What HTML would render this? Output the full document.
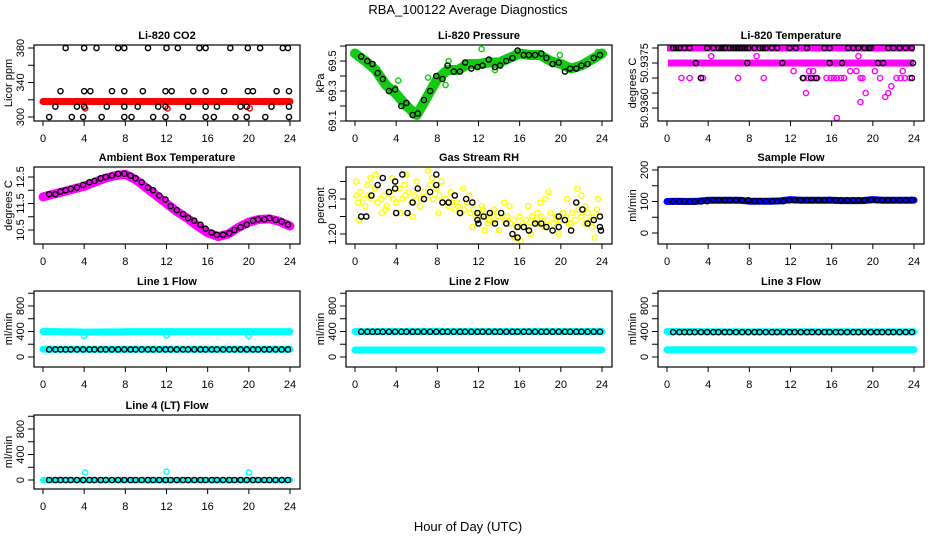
<!DOCTYPE html>
<html><head><meta charset="utf-8">
<style>
html,body{margin:0;padding:0;background:#fff;}
svg{display:block;font-family:"Liberation Sans",sans-serif;}
</style></head>
<body>
<svg id="c" width="936" height="540" xmlns="http://www.w3.org/2000/svg">
<rect x="0" y="0" width="936" height="540" fill="#fff"/>
<text x="468" y="14" text-anchor="middle" font-size="13">RBA_100122  Average Diagnostics</text>
<text x="468" y="531" text-anchor="middle" font-size="13">Hour of Day (UTC)</text>
</svg>
<script>
// shared times of black (hourly average) points
const blackT=[0.6,1.2,1.7,2.2,2.7,3.3,3.9,4.5,5.0,5.6,6.1,6.7,7.3,7.9,8.5,9.0,9.6,10.2,10.7,11.3,11.9,12.4,13.0,13.6,14.1,14.7,15.3,15.8,16.4,16.9,17.5,18.1,18.6,19.2,19.8,20.4,20.9,21.5,22.0,22.6,23.2,23.8];
const hours=[0,1,2,3,4,5,6,7,8,9,10,11,12,13,14,15,16,17,18,19,20,21,22,23,24];
const xTicks=[0,4,8,12,16,20,24];

// CO2
const co2BandV=[318,318,318,318,318,318,318,318,318,318,318,318,318,318,318,318,318,318,318,318,318,318,318,318,318];
const co2RedT=[4.1,12.1,20.1];
const co2RedV=[310,310,310];
const co2BlackT=[2.2,4,5.2,7.3,7.9,10.2,12,13.1,15.2,15.8,18.2,19.9,21.1,23.3,23.8, 1.7,4,4.6,6.7,7.9,9.7,11.9,12.5,14.6,15.8,17.6,19.9,20.4,22.7,23.9, 1.2,3.3,4,6.2,7.9,9.2,11.2,11.9,14.1,15.8,16.9,19.2,19.8,22.2,23.9, 0.6,2.8,3.9,5.7,7.9,8.6,10.7,11.9,13.6,15.8,16.6,18.7,19.8,21.6,23.9];
const co2BlackV=[380,380,380,380,380,380,380,380,380,380,380,380,380,380,380, 330,330,330,330,330,330,330,330,330,330,330,330,330,330,330, 312,312,312,312,312,312,312,312,312,312,312,312,312,312,312, 300,300,300,300,300,300,300,300,300,300,300,300,300,300,300];

// Pressure
const presBandV=[69.55,69.5,69.44,69.34,69.28,69.2,69.14,69.26,69.38,69.44,69.44,69.48,69.48,69.49,69.49,69.52,69.55,69.54,69.54,69.5,69.48,69.45,69.47,69.51,69.55];
const presBlackV=[69.53,69.5,69.48,69.42,69.38,69.3,69.31,69.2,69.22,69.14,69.15,69.24,69.3,69.4,69.38,69.47,69.43,69.43,69.49,69.45,69.46,69.47,69.51,69.46,69.47,69.5,69.52,69.57,69.54,69.54,69.54,69.55,69.52,69.48,69.49,69.43,69.45,69.45,69.47,69.48,69.52,69.54];
const presGreenT=[3.9,4.2,7.1,8.8,9.1,12.3,13.6,19.9,23.6];
const presGreenV=[69.32,69.37,69.39,69.34,69.5,69.58,69.44,69.54,69.56];

// Li-820 temperature
const tempBandV=[50.9380,50.9375];
const tempBandStart=[0.0,0.1];
const tempBandEnd=[24,24];
const tempMagT=[1.4,2.2,3.3,3.5,6.9,9.4,13.3,13.7,14.0,14.3,14.6,15.5,15.9,16.2,16.5,16.9,17.2,18.8,19.0,20.7,22.3,22.7,23.1,23.6,4.3,8.7,18.6,12.3,13.8,14.2,17.8,18.4,20.2,22.9,13.5,19.3,21.5,21.8,18.8,21.2,16.5];
const tempMagV=[50.9370,50.9370,50.9370,50.9370,50.9370,50.9370,50.9370,50.9370,50.9370,50.9370,50.9370,50.9370,50.9370,50.9370,50.9370,50.9370,50.9370,50.9370,50.9370,50.9370,50.9370,50.9370,50.9370,50.9370,50.93773,50.93773,50.93773,50.93723,50.93723,50.93723,50.93723,50.93723,50.93723,50.93723,50.9365,50.9365,50.9365,50.93673,50.9362,50.93637,50.93567];
const tempBlackT=[0.6,0.9,1.2,1.7,2.2,3.9,4.5,5.0,5.3,5.6,6.1,6.4,6.7,7.0,7.3,7.6,7.9,8.5,9.0,9.3,9.6,10.2,10.7,11.9,12.5,13.6,15.3,15.8,17.6,18.1,18.6,19.2,19.6,19.8,21.5,22.0,22.6,23.2,23.8, 2.8,7.8,11.2,15.8,17.0,20.5,21.0,23.9, 3.3,13.2,14.0,14.5,23.8];
const tempBlackV=[50.9380,50.9380,50.9380,50.9380,50.9380,50.9380,50.9380,50.9380,50.9380,50.9380,50.9380,50.9380,50.9380,50.9380,50.9380,50.9380,50.9380,50.9380,50.9380,50.9380,50.9380,50.9380,50.9380,50.9380,50.9380,50.9380,50.9380,50.9380,50.9380,50.9380,50.9380,50.9380,50.9380,50.9380,50.9380,50.9380,50.9380,50.9380,50.9380, 50.9375,50.9375,50.9375,50.9375,50.9375,50.9375,50.9375,50.9375, 50.9370,50.9370,50.9370,50.9370,50.9370];

// Ambient box temperature
const ambBandV=[11.75,11.85,11.95,12.05,12.15,12.3,12.45,12.55,12.6,12.4,12.1,11.8,11.5,11.2,10.95,10.65,10.4,10.25,10.35,10.6,10.8,10.9,10.92,10.82,10.65];
const ambBlackV=[11.85,11.85,11.95,12.0,12.05,12.1,12.2,12.3,12.35,12.45,12.5,12.55,12.62,12.62,12.55,12.45,12.3,12.1,12.0,11.8,11.65,11.4,11.25,11.1,10.95,10.85,10.7,10.55,10.4,10.32,10.32,10.38,10.5,10.6,10.7,10.85,10.9,10.9,10.95,10.88,10.82,10.7];

// Gas stream RH
const rhYellowT=[0.1,0.3,0.5,0.8,1.0,1.3,1.6,1.9,2.2,2.5,2.8,3.1,3.4,3.7,4.0,4.3,4.6,4.9,5.2,5.5,5.8,6.1,6.4,6.7,7.0,7.3,7.6,7.9,8.2,8.5,8.8,9.1,9.4,9.7,10.0,10.3,10.6,10.9,11.2,11.5,11.8,12.1,12.4,12.7,13.0,13.3,13.6,13.9,14.2,14.5,14.8,15.1,15.4,15.7,16.0,16.3,16.6,16.9,17.2,17.5,17.8,18.1,18.4,18.7,19.0,19.3,19.6,19.9,20.2,20.5,20.8,21.1,21.4,21.7,22.0,22.3,22.6,22.9,23.2,23.5,23.8, 0.1,1.5,2.0,2.6,3.6,4.4,5.0,5.6,6.3,7.1,7.5,8.4,9.3,10.5,11.4,12.3,12.6,13.5,14.5,15.0,15.5,16.1,17.1,18.0,18.8,19.5,20.6,21.6,22.4,23.3, 0.4,1.2,3.0,4.8,6.0,8.1,9.9,11.1,12.9,14.0,15.7,16.8,17.7,18.5,19.8,21.0,22.0,23.0,23.6];
const rhYellowV=[1.31,1.29,1.32,1.30,1.28,1.31,1.30,1.33,1.29,1.30,1.31,1.28,1.32,1.30,1.29,1.33,1.30,1.31,1.32,1.29,1.31,1.33,1.30,1.32,1.31,1.34,1.30,1.33,1.31,1.29,1.30,1.28,1.29,1.27,1.28,1.26,1.27,1.29,1.26,1.27,1.25,1.26,1.27,1.25,1.24,1.26,1.24,1.25,1.26,1.24,1.25,1.23,1.24,1.22,1.25,1.23,1.24,1.22,1.25,1.24,1.23,1.25,1.22,1.24,1.26,1.23,1.25,1.24,1.26,1.25,1.23,1.26,1.24,1.27,1.25,1.23,1.26,1.24,1.25,1.27,1.25, 1.35,1.36,1.37,1.26,1.36,1.26,1.37,1.25,1.28,1.38,1.36,1.35,1.32,1.33,1.22,1.28,1.21,1.27,1.29,1.28,1.19,1.18,1.20,1.29,1.32,1.24,1.30,1.33,1.28,1.19, 1.24,1.34,1.27,1.34,1.35,1.26,1.29,1.31,1.23,1.21,1.22,1.28,1.26,1.30,1.20,1.23,1.31,1.22,1.30];
const rhBlackT=[0.6,1.1,1.6,2.2,2.7,3.3,3.9,3.9,4.0,4.6,5.1,5.6,6.1,6.7,7.3,7.9,7.9,8.5,9.1,9.7,10.2,10.8,11.4,11.9,11.9,12.0,12.5,13.1,13.6,14.2,14.7,15.3,15.8,15.8,16.4,16.9,17.5,18.1,18.6,19.2,19.8,19.8,20.4,21.0,21.5,22.1,22.6,23.2,23.8,23.8,23.9];
const rhBlackV=[1.25,1.25,1.31,1.34,1.36,1.32,1.35,1.33,1.26,1.37,1.26,1.29,1.33,1.30,1.32,1.34,1.37,1.29,1.29,1.31,1.26,1.30,1.29,1.26,1.24,1.23,1.25,1.26,1.23,1.26,1.23,1.20,1.22,1.19,1.22,1.21,1.23,1.23,1.22,1.21,1.25,1.22,1.24,1.21,1.29,1.27,1.23,1.24,1.22,1.25,1.21];

// Sample flow
const sampBandV=[100,101,100,101,104,104,104,104,101,101,101,102,106,104,104,104,104,103,103,103,106,104,104,104,104];
const sampBlackV=[100,100,100,100,100,100,101,104,104,104,104,104,104,104,101,101,101,101,101,101,104,104,104,104,104,104,104,105,104,104,104,104,104,104,105,104,104,104,104,104,104,105];

// Line flows
const l1CyanHiV=[400,400,395,395,390,392,393,393,396,398,398,398,398,398,398,398,398,398,398,398,398,398,398,398,398];
const l1CyanLoV=[120,120,120,120,120,120,120,120,120,120,120,120,120,120,120,120,120,120,120,120,120,120,120,120,120];
const l1DipT=[4.0,12.0,20.0];
const l1DipV=[330,340,330];
const l1BlackV=[118,118,118,118,118,118,118,118,118,118,118,118,118,118,118,118,118,118,118,118,118,118,118,118,118,118,118,118,118,118,118,118,118,118,118,118,118,118,118,118,118,118];
const l2CyanHiV=[400,400,400,400,400,400,400,400,400,400,400,400,400,400,400,400,400,400,400,400,400,400,400,400,400];
const l2CyanLoV=[110,110,110,110,110,110,110,110,110,110,110,110,110,110,110,110,110,110,110,110,110,110,110,110,110];
const l2BlackV=[395,395,395,395,395,395,395,395,395,395,395,395,395,395,395,395,395,395,395,395,395,395,395,395,395,395,395,395,395,395,395,395,395,395,395,395,395,395,395,395,395,395];
const l3CyanHiV=[400,400,400,400,395,395,395,395,395,395,395,395,395,395,395,395,395,395,395,395,395,395,395,395,395];
const l3CyanLoV=[115,115,115,115,115,115,115,115,115,115,115,115,115,115,115,115,115,115,115,115,115,115,115,115,115];
const l3BlackV=[390,390,390,390,390,390,390,390,390,390,390,390,390,390,390,390,390,390,390,390,390,390,390,390,390,390,390,390,390,390,390,390,390,390,390,390,390,390,390,390,390,390];
const l4CyanV=[0,0,0,0,0,0,0,0,0,0,0,0,0,0,0,0,0,0,0,0,0,0,0,0,0];
const l4SpikeT=[4.1,12.0,20.0];
const l4SpikeV=[120,130,120];
const l4BlackV=[0,0,0,0,0,0,0,0,0,0,0,0,0,0,0,0,0,0,0,0,0,0,0,0,0,0,0,0,0,0,0,0,0,0,0,0,0,0,0,0,0,0];

const NS='http://www.w3.org/2000/svg';
const svg=document.getElementById('c');
const X0=[43,355,667], XW=247;
const TOPS=[45,167,291,415], BOTS=[121,244,367,489];
function mk(tag,attrs,parent){const e=document.createElementNS(NS,tag);for(const k in attrs)e.setAttribute(k,attrs[k]);(parent||svg).appendChild(e);return e;}

function makePanel(col,row,title,ylab,ymin,ymax,ticks,labels,slug){
  const g=mk('g',{});
  
  
  const p={g,col,top:TOPS[row],bot:BOTS[row],ymin,ymax};
  p.x=t=>X0[col]+t/24*XW;
  p.y=v=>p.top+(ymax-v)/(ymax-ymin)*(p.bot-p.top);
  const L=34+312*col,R=300+312*col;
  p.L=L;p.R=R;
  const t=mk('text',{x:(L+R)/2,y:p.top-6,'text-anchor':'middle','font-size':11,'font-weight':'bold'},g);
  t.textContent=title;
  
  
  xTicks.forEach(v=>{
    const xx=p.x(v);
    mk('line',{x1:xx,x2:xx,y1:p.bot,y2:p.bot+5,stroke:'#000','stroke-width':1},g);
    const tl=mk('text',{x:xx,y:p.bot+21,'text-anchor':'middle','font-size':11},g);
    tl.textContent=v;
    
    
  });
  ticks.forEach((v,i)=>{
    const yy=p.y(v);
    mk('line',{x1:L-6,x2:L,y1:yy,y2:yy,stroke:'#000','stroke-width':1},g);
    if(labels[i]!==''){
      const tl=mk('text',{x:0,y:0,'text-anchor':'middle','font-size':11,transform:`translate(${L-10},${yy}) rotate(-90)`},g);
      tl.textContent=labels[i];
      
      
    }
  });
  const yl=mk('text',{x:0,y:0,'text-anchor':'middle','font-size':11,transform:`translate(${L-22},${(p.top+p.bot)/2}) rotate(-90)`},g);
  yl.textContent=ylab;
  
  
  const cp='clip'+col+row;
  const cd=mk('clipPath',{id:cp},g);
  mk('rect',{x:L,y:p.top,width:R-L,height:p.bot-p.top},cd);
  p.plot=mk('g',{'clip-path':`url(#${cp})`},g);
  p.finish=()=>{const b=mk('rect',{x:L,y:p.top,width:R-L,height:p.bot-p.top,fill:'none',stroke:'#000','stroke-width':1.2},g);
    
    };
  return p;
}
function band(p,ts,vs,color,w,name){
  const pts=ts.map((t,i)=>p.x(t).toFixed(1)+','+p.y(vs[i]).toFixed(1)).join(' ');
  const l=mk('polyline',{points:pts,fill:'none',stroke:color,'stroke-width':w,'stroke-linejoin':'round','stroke-linecap':'round'},p.plot);
  
  
}
function pts(p,ts,vs,color,name,r){
  ts.forEach((t,i)=>{
    const c=mk('circle',{cx:p.x(t),cy:p.y(vs[i]),r:r||2.6,fill:'none',stroke:color,'stroke-width':1.4},p.plot);
    
    
  });
}

// CO2
let p=makePanel(0,0,'Li-820 CO2','Licor ppm',295.4,383.5,[300,320,340,360,380],['300','','340','','380'],'co2');
band(p,hours,co2BandV,'#f00',7,'co2-raw-band');
pts(p,co2RedT,co2RedV,'#f00','co2-raw-point');
pts(p,co2BlackT,co2BlackV,'#000','co2-average-point');
p.finish();

// Pressure
p=makePanel(1,0,'Li-820 Pressure','kPa',69.1,69.607,[69.1,69.2,69.3,69.4,69.5,69.6],['69.1','','69.3','','69.5',''],'pressure');
band(p,hours,presBandV,'#1c1',10,'pressure-raw-band');
pts(p,presGreenT,presGreenV,'#1c1','pressure-raw-point');
pts(p,blackT,presBlackV,'#000','pressure-average-point');
p.finish();

// Li-820 temperature
p=makePanel(2,0,'Li-820 Temperature','degrees C',50.93557,50.9381,[50.9380,50.9375,50.9370,50.9365,50.9360],['','50.9375','','','50.9360'],'li820-temp');
tempBandV.forEach((v,i)=>{
  const r=mk('rect',{x:p.x(tempBandStart[i]),y:p.y(v)-3.5,width:p.x(tempBandEnd[i])-p.x(tempBandStart[i]),height:7,fill:'#f0f'},p.plot);
  
  
});
pts(p,tempMagT,tempMagV,'#f0f','li820-temp-raw-point');
pts(p,tempBlackT,tempBlackV,'#000','li820-temp-average-point');
p.finish();

// Ambient
p=makePanel(0,1,'Ambient Box Temperature','degrees C',9.972,12.877,[10.5,11,11.5,12,12.5],['10.5','','11.5','','12.5'],'ambient-temp');
band(p,hours,ambBandV,'#f0f',9,'ambient-temp-raw-band');
pts(p,blackT,ambBlackV,'#000','ambient-temp-average-point');
p.finish();

// RH
p=makePanel(1,1,'Gas Stream RH','percent',1.1714,1.3914,[1.20,1.25,1.30,1.35],['1.20','','1.30',''],'rh');
pts(p,rhYellowT,rhYellowV,'#ff0','rh-raw-point');
pts(p,rhBlackT,rhBlackV,'#000','rh-average-point');
p.finish();

// Sample flow
p=makePanel(2,1,'Sample Flow','ml/min',-34.9,209.5,[0,50,100,150,200],['0','','100','','200'],'sample-flow');
band(p,hours,sampBandV,'#00f',7,'sample-flow-raw-band');
pts(p,blackT,sampBlackV,'#000','sample-flow-average-point');
p.finish();

const flowTicks=[0,200,400,600,800,1000], flowLabels=['0','','400','','800',''];
// Line 1
p=makePanel(0,2,'Line 1 Flow','ml/min',-157,1035,flowTicks,flowLabels,'line1-flow');
band(p,hours,l1CyanHiV,'#0ff',7,'line1-flow-raw-band-high');
band(p,hours,l1CyanLoV,'#0ff',7,'line1-flow-raw-band-low');
pts(p,l1DipT,l1DipV,'#0ff','line1-flow-raw-point');
pts(p,blackT,l1BlackV,'#000','line1-flow-average-point');
p.finish();
// Line 2
p=makePanel(1,2,'Line 2 Flow','ml/min',-157,1035,flowTicks,flowLabels,'line2-flow');
band(p,hours,l2CyanHiV,'#0ff',7,'line2-flow-raw-band-high');
band(p,hours,l2CyanLoV,'#0ff',7,'line2-flow-raw-band-low');
pts(p,blackT,l2BlackV,'#000','line2-flow-average-point');
p.finish();
// Line 3
p=makePanel(2,2,'Line 3 Flow','ml/min',-157,1035,flowTicks,flowLabels,'line3-flow');
band(p,hours,l3CyanHiV,'#0ff',7,'line3-flow-raw-band-high');
band(p,hours,l3CyanLoV,'#0ff',7,'line3-flow-raw-band-low');
pts(p,blackT,l3BlackV,'#000','line3-flow-average-point');
p.finish();
// Line 4
p=makePanel(0,3,'Line 4 (LT) Flow','ml/min',-141,1020,flowTicks,flowLabels,'line4-flow');
band(p,hours,l4CyanV,'#0ff',6,'line4-flow-raw-band');
pts(p,l4SpikeT,l4SpikeV,'#0ff','line4-flow-raw-point');
pts(p,blackT,l4BlackV,'#000','line4-flow-average-point');
p.finish();
</script>
</body></html>
